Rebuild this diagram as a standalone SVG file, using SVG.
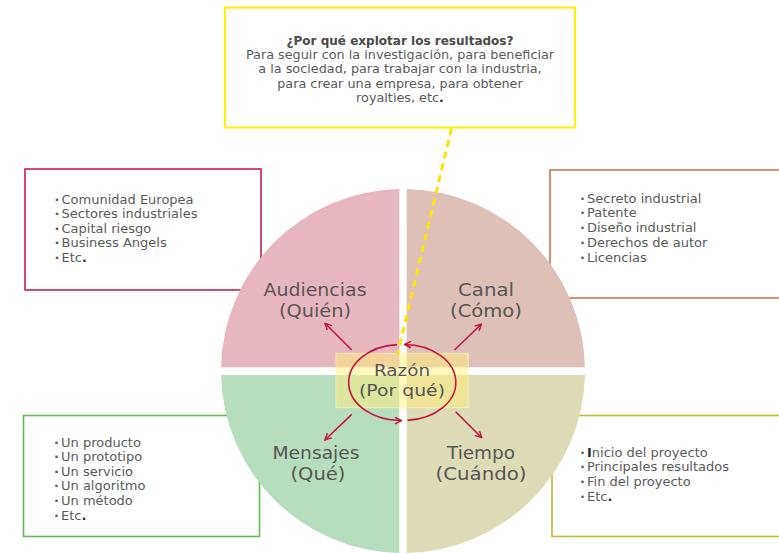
<svg xmlns="http://www.w3.org/2000/svg" width="779" height="553" viewBox="0 0 779 553">
  <style>
    .list { font-family: "DejaVu Sans", "Liberation Sans", sans-serif; font-size: 13px; fill: #5a5a5a; }
    .bul { font-weight: bold; }
    .dark { fill: #2e2e2e; font-weight: bold; }
    .label { font-family: "DejaVu Sans", "Liberation Sans", sans-serif; font-size: 17.5px; fill: #565656; text-anchor: middle; }
    .centre { font-size: 16.5px; }
    .note { font-family: "DejaVu Sans", "Liberation Sans", sans-serif; font-size: 12.8px; fill: #5a5a5a; text-anchor: middle; }
    .note-title { font-weight: bold; fill: #4a4a4a; }
    .box { fill: #ffffff; stroke-width: 1.6; }
    .red { fill: none; stroke: #c0163f; stroke-width: 1.6; }
  </style>
  <defs>
    <marker id="arrow" viewBox="0 0 10 10" refX="9" refY="5" markerWidth="8" markerHeight="8" markerUnits="userSpaceOnUse" orient="auto">
      <path d="M1,1 L9,5 L1,9" fill="none" stroke="#c0163f" stroke-width="1.8"/>
    </marker>
  </defs>

  <rect width="779" height="553" fill="#ffffff"/>

  <!-- detail boxes (sit behind the circle) -->
  <g id="box-audiencias">
    <rect class="box" x="25" y="169" width="236" height="121" stroke="#c81e50"/>
    <text class="list"><tspan class="bul" x="54.5" y="203.5">·</tspan><tspan x="61.5">Comunidad Europea</tspan></text>
    <text class="list"><tspan class="bul" x="54.5" y="218">·</tspan><tspan x="61.5">Sectores industriales</tspan></text>
    <text class="list"><tspan class="bul" x="54.5" y="232.5">·</tspan><tspan x="61.5">Capital riesgo</tspan></text>
    <text class="list"><tspan class="bul" x="54.5" y="247">·</tspan><tspan x="61.5">Business Angels</tspan></text>
    <text class="list"><tspan class="bul" x="54.5" y="261.5">·</tspan><tspan x="61.5">Etc</tspan><tspan class="dark">.</tspan></text>
  </g>

  <g id="box-canal">
    <rect class="box" x="550" y="170" width="240" height="128" stroke="#c8784a"/>
    <text class="list"><tspan class="bul" x="580" y="202.5">·</tspan><tspan x="587">Secreto industrial</tspan></text>
    <text class="list"><tspan class="bul" x="580" y="217.3">·</tspan><tspan x="587">Patente</tspan></text>
    <text class="list"><tspan class="bul" x="580" y="232">·</tspan><tspan x="587">Diseño industrial</tspan></text>
    <text class="list"><tspan class="bul" x="580" y="246.8">·</tspan><tspan x="587">Derechos de autor</tspan></text>
    <text class="list"><tspan class="bul" x="580" y="261.5">·</tspan><tspan x="587">Licencias</tspan></text>
  </g>

  <g id="box-mensajes">
    <rect class="box" x="23.5" y="415.5" width="236" height="121" stroke="#66bb55"/>
    <text class="list"><tspan class="bul" x="54" y="446.5">·</tspan><tspan x="61">Un producto</tspan></text>
    <text class="list"><tspan class="bul" x="54" y="461">·</tspan><tspan x="61">Un prototipo</tspan></text>
    <text class="list"><tspan class="bul" x="54" y="475.7">·</tspan><tspan x="61">Un servicio</tspan></text>
    <text class="list"><tspan class="bul" x="54" y="490.4">·</tspan><tspan x="61">Un algoritmo</tspan></text>
    <text class="list"><tspan class="bul" x="54" y="505">·</tspan><tspan x="61">Un método</tspan></text>
    <text class="list"><tspan class="bul" x="54" y="519.7">·</tspan><tspan x="61">Etc</tspan><tspan class="dark">.</tspan></text>
  </g>

  <g id="box-tiempo">
    <rect class="box" x="552" y="415.5" width="240" height="121" stroke="#c2ba3a"/>
    <text class="list"><tspan class="bul" x="580" y="456.5">·</tspan><tspan x="587" class="dark">I</tspan><tspan>nicio del proyecto</tspan></text>
    <text class="list"><tspan class="bul" x="580" y="471.2">·</tspan><tspan x="587">Principales resultados</tspan></text>
    <text class="list"><tspan class="bul" x="580" y="486">·</tspan><tspan x="587">Fin del proyecto</tspan></text>
    <text class="list"><tspan class="bul" x="580" y="500.7">·</tspan><tspan x="587">Etc</tspan><tspan class="dark">.</tspan></text>
  </g>

  <g id="note-razon">
    <rect x="225" y="7.5" width="350" height="120" fill="#ffffff" stroke="#fff200" stroke-width="2"/>
    <text class="note note-title" x="400" y="44.5" textLength="227" lengthAdjust="spacingAndGlyphs">¿Por qué explotar los resultados?</text>
    <text class="note" x="400" y="58.5">Para seguir con la investigación, para beneficiar</text>
    <text class="note" x="400" y="73">a la sociedad, para trabajar con la industria,</text>
    <text class="note" x="400" y="87.5">para crear una empresa, para obtener</text>
    <text class="note" x="400" y="102">royalties, etc<tspan class="dark">.</tspan></text>
  </g>

  <!-- circle split into four quadrants -->
  <g id="q-audiencias">
    <path d="M399.3,367.3 L399.3,189.04 A182,182 0 0 0 221.04,367.3 Z" fill="#e8b6be"/>
    <text class="label" x="315" y="296.3" textLength="103" lengthAdjust="spacingAndGlyphs">Audiencias</text>
    <text class="label" x="315" y="316.8" textLength="72" lengthAdjust="spacingAndGlyphs">(Quién)</text>
  </g>
  <g id="q-canal">
    <path d="M406.7,367.3 L406.7,189.04 A182,182 0 0 1 584.96,367.3 Z" fill="#ddc0b7"/>
    <text class="label" x="486" y="296.3" textLength="56" lengthAdjust="spacingAndGlyphs">Canal</text>
    <text class="label" x="486" y="316.8" textLength="72" lengthAdjust="spacingAndGlyphs">(Cómo)</text>
  </g>
  <g id="q-mensajes">
    <path d="M399.3,375 L399.3,552.96 A182,182 0 0 1 221.04,375 Z" fill="#b8ddbe"/>
    <text class="label" x="316" y="459.3" textLength="87" lengthAdjust="spacingAndGlyphs">Mensajes</text>
    <text class="label" x="318" y="479.8" textLength="55" lengthAdjust="spacingAndGlyphs">(Qué)</text>
  </g>
  <g id="q-tiempo">
    <path d="M406.7,375 L406.7,552.96 A182,182 0 0 0 584.96,375 Z" fill="#dedbb8"/>
    <text class="label" x="481" y="459.3" textLength="68" lengthAdjust="spacingAndGlyphs">Tiempo</text>
    <text class="label" x="481" y="479.8" textLength="91" lengthAdjust="spacingAndGlyphs">(Cuándo)</text>
  </g>

  <g id="center-razon">
    <rect x="336" y="353.3" width="132.3" height="54.4" fill="#ffef7a" fill-opacity="0.5" stroke="#fff6b8" stroke-opacity="0.7" stroke-width="1"/>
    <text class="label centre" x="402" y="376.3" textLength="56" lengthAdjust="spacingAndGlyphs">Razón</text>
    <text class="label centre" x="402" y="395.7" textLength="86" lengthAdjust="spacingAndGlyphs">(Por qué)</text>
  </g>

  <g id="connectors">
    <!-- cycle around the centre -->
    <path class="red" d="M407.5,420.4 A52,38 0 0 0 404.5,344.5" marker-end="url(#arrow)"/>
    <path class="red" d="M397,344.6 A52,38 0 0 0 401.5,420.5" marker-end="url(#arrow)"/>
    <!-- centre to each quadrant -->
    <path class="red" d="M351.7,350 L325,323.3" marker-end="url(#arrow)"/>
    <path class="red" d="M454.5,350 L481.5,324" marker-end="url(#arrow)"/>
    <path class="red" d="M351.7,414.3 L325,440" marker-end="url(#arrow)"/>
    <path class="red" d="M455.7,411.7 L481.7,437.7" marker-end="url(#arrow)"/>
    <!-- note to centre -->
    <path d="M451.5,128.5 L397.5,354" fill="none" stroke="#ffe600" stroke-width="3" stroke-dasharray="7 5"/>
  </g>
</svg>
